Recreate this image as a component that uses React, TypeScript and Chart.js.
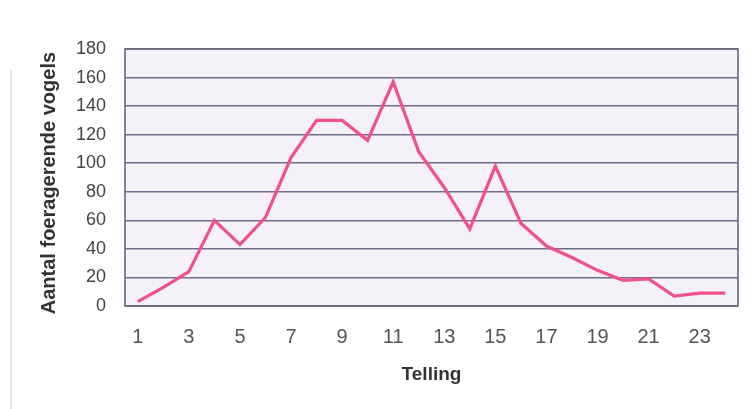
import React, { useEffect, useRef } from "react";
import { Chart, registerables } from "chart.js";

Chart.register(...registerables);

const tellingen: string[] = [
  "1", "2", "3", "4", "5", "6", "7", "8", "9", "10", "11", "12",
  "13", "14", "15", "16", "17", "18", "19", "20", "21", "22", "23", "24",
];
const vogels: number[] = [
  3, 13, 24, 60, 43, 62, 104, 130, 130, 116, 157, 108,
  83, 54, 98, 58, 42, 34, 25, 18, 19, 7, 9, 9,
];
const yTicks: number[] = [0, 20, 40, 60, 80, 100, 120, 140, 160, 180];

const plotFrame = {
  id: "plotFrame",
  beforeDraw(chart: any) {
    const { ctx, chartArea: a } = chart;
    ctx.save();
    ctx.fillStyle = "#f4f1f9";
    ctx.fillRect(a.left, a.top, a.right - a.left, a.bottom - a.top);
    ctx.restore();
  },
  afterDatasetsDraw(chart: any) {
    const { ctx, chartArea: a } = chart;
    ctx.save();
    ctx.strokeStyle = "#66667a";
    ctx.lineWidth = 1.6;
    ctx.strokeRect(a.left, a.top, a.right - a.left, a.bottom - a.top);
    ctx.restore();
  },
};

const FONT = "'Liberation Sans', Arial, sans-serif";

export default function App() {
  const ref = useRef<HTMLCanvasElement | null>(null);

  useEffect(() => {
    if (!ref.current) return;
    const chart = new Chart(ref.current, {
      type: "line",
      data: {
        labels: tellingen,
        datasets: [
          {
            data: vogels,
            borderColor: "#f2508c",
            borderWidth: 3.2,
            pointRadius: 0,
            tension: 0,
            fill: false,
          },
        ],
      },
      plugins: [plotFrame],
      options: {
        animation: false,
        responsive: false,
        devicePixelRatio: 1,
        layout: { padding: { left: 37, top: 49, right: 13, bottom: 0 } },
        plugins: { legend: { display: false }, tooltip: { enabled: false } },
        scales: {
          x: {
            type: "category",
            offset: true,
            grid: { display: false },
            border: { display: false },
            ticks: {
              autoSkip: false,
              maxRotation: 0,
              padding: 11,
              color: "#555555",
              font: { family: FONT, size: 20 },
              callback: (_v: any, i: number) => (i % 2 === 0 ? tellingen[i] : ""),
            },
            title: {
              display: true,
              text: "Telling",
              color: "#333333",
              padding: { top: 0, bottom: 23 },
              font: { family: FONT, size: 19, weight: "bold" },
            },
            afterFit: (s: any) => {
              s.height = 409 - 306;
            },
          },
          y: {
            min: 0,
            max: 180,
            afterBuildTicks: (s: any) => {
              s.ticks = yTicks.map((v) => ({ value: v }));
            },
            grid: { color: "#6e6e8e", lineWidth: 1.5, drawTicks: false },
            border: { display: false },
            ticks: {
              padding: 19,
              color: "#444444",
              font: { family: FONT, size: 18 },
            },
            title: {
              display: true,
              text: "Aantal foeragerende vogels\u00a0\u00a0",
              color: "#333333",
              padding: { top: 0, bottom: 0 },
              font: { family: FONT, size: 20, weight: "bold" },
            },
            afterFit: (s: any) => {
              s.width = 125 - 37;
            },
          },
        },
      },
    });
    return () => chart.destroy();
  }, []);

  return (
    <div style={{ position: "fixed", left: 0, top: 0, width: 751, height: 409, background: "#ffffff" }}>
      <div style={{ position: "absolute", left: 10, top: 70, bottom: 0, width: 2, background: "#e8e8e8" }} />
      <canvas ref={ref} width={751} height={409} style={{ position: "absolute", left: 0, top: 0 }} />
    </div>
  );
}
